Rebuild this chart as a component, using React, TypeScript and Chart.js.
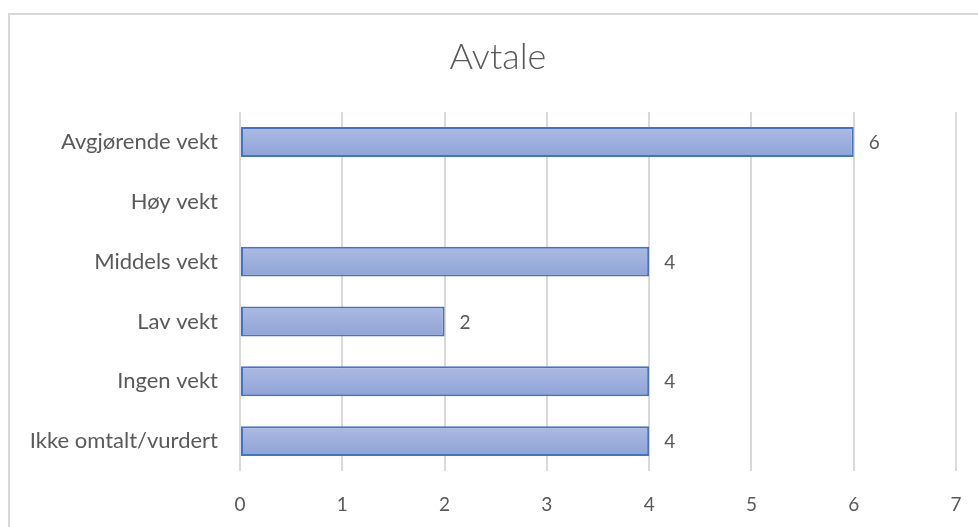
import React, { useEffect, useRef } from "react";
import { Chart, registerables } from "chart.js";

Chart.register(...registerables);

const categories = [
  "Avgjørende vekt",
  "Høy vekt",
  "Middels vekt",
  "Lav vekt",
  "Ingen vekt",
  "Ikke omtalt/vurdert",
];
const counts: (number | null)[] = [6, null, 4, 2, 4, 4];
const xTicks = [0, 1, 2, 3, 4, 5, 6, 7];
const chartTitle = "Avtale";

const FONT = "Lato, 'Open Sans', sans-serif";
const TEXT = "#595959";
const GRID = "#d9d9d9";

const valueLabels = {
  id: "valueLabels",
  afterDatasetsDraw(chart: any) {
    const ctx = chart.ctx;
    const meta = chart.getDatasetMeta(0);
    ctx.save();
    ctx.font = `19px ${FONT}`;
    ctx.fillStyle = TEXT;
    ctx.textAlign = "left";
    ctx.textBaseline = "middle";
    meta.data.forEach((bar: any, i: number) => {
      const v = counts[i];
      if (v === null || v === undefined) return;
      ctx.fillText(String(v), bar.x + 15, bar.y + 1);
    });
    ctx.restore();
  },
};

const titlePlugin = {
  id: "chartTitle",
  afterDraw(chart: any) {
    const ctx = chart.ctx;
    ctx.save();
    ctx.font = `300 36px ${FONT}`;
    ctx.fillStyle = TEXT;
    ctx.textAlign = "center";
    ctx.textBaseline = "middle";
    ctx.fillText(chartTitle, 498, 57);
    ctx.restore();
  },
};

export default function App() {
  const canvasRef = useRef<HTMLCanvasElement | null>(null);

  useEffect(() => {
    const canvas = canvasRef.current;
    if (!canvas) return;
    const chart = new Chart(canvas, {
      type: "bar",
      data: {
        labels: categories,
        datasets: [
          {
            data: counts as any,
            borderColor: "#4472c4",
            borderWidth: 2,
            borderSkipped: false,
            barPercentage: 0.5,
            categoryPercentage: 1,
            backgroundColor: (c: any) => {
              const ch = c.chart;
              const ys = ch.scales && ch.scales.y;
              const cy = ys && c.dataIndex !== undefined ? ys.getPixelForValue(c.dataIndex) : NaN;
              if (!Number.isFinite(cy)) return "#9cafdc";
              const g = ch.ctx.createLinearGradient(0, cy - 15, 0, cy + 15);
              g.addColorStop(0, "#adbbe2");
              g.addColorStop(1, "#8ea3d7");
              return g;
            },
          },
        ],
      },
      options: {
        indexAxis: "y",
        responsive: false,
        animation: false,
        events: [],
        layout: { padding: { top: 112, right: 22, left: 0, bottom: 0 } },
        plugins: {
          legend: { display: false },
          title: { display: false },
          tooltip: { enabled: false },
        },
        scales: {
          x: {
            min: 0,
            max: 7,
            afterBuildTicks: (s: any) => {
              s.ticks = xTicks.map((v) => ({ value: v }));
            },
            afterFit: (s: any) => {
              s.height = 56;
              s.paddingLeft = 0;
              s.paddingRight = 0;
            },
            grid: { color: GRID, lineWidth: 2, drawTicks: false },
            border: { display: false },
            ticks: {
              color: TEXT,
              font: { family: FONT, size: 19 },
              padding: 22,
            },
          },
          y: {
            afterFit: (s: any) => {
              s.width = 240;
            },
            grid: { display: false, drawTicks: false },
            border: { display: false },
            ticks: {
              color: TEXT,
              font: { family: FONT, size: 22 },
              padding: 22,
            },
          },
        },
      },
      plugins: [valueLabels, titlePlugin],
    } as any);
    return () => chart.destroy();
  }, []);

  return (
    <>
      <div
        style={{
          position: "fixed",
          left: 8,
          top: 13,
          width: 1200,
          height: 800,
          border: "2px solid #d9d9d9",
          background: "#ffffff",
        }}
      />
      <canvas
        ref={canvasRef}
        width={978}
        height={527}
        style={{ position: "fixed", left: 0, top: 0, width: 978, height: 527 }}
      />
    </>
  );
}
